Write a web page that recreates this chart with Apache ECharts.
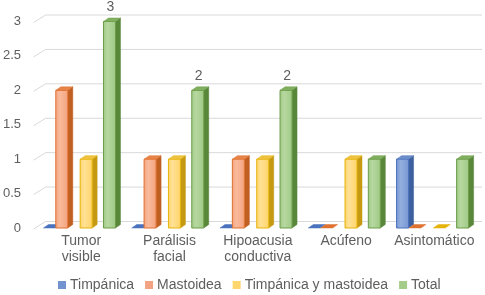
<!DOCTYPE html>
<html>
<head>
<meta charset="utf-8">
<script src="https://cdn.jsdelivr.net/npm/echarts@6/dist/echarts.min.js"></script>
<style>
  html, body { margin: 0; padding: 0; background: #fff; }
  #chart { width: 485px; height: 295px; }
</style>
</head>
<body>
<div id="chart"></div>
<script>
// data
var categories = ['Tumor\nvisible', 'Parálisis\nfacial', 'Hipoacusia\nconductiva', 'Acúfeno', 'Asintomático'];
var seriesNames = ['Timpánica', 'Mastoidea', 'Timpánica y mastoidea', 'Total'];
var timpanica = [0, 0, 0, 0, 1];
var mastoidea = [2, 1, 1, 0, 0];
var ambas = [1, 1, 1, 1, 0];
var total = [3, 2, 2, 1, 1];
var totalLabels = ['3', '2', '2', '', ''];
var yTicks = [0, 0.5, 1, 1.5, 2, 2.5, 3];

// look of each series (3d column: front, side, top)
var looks = [
  { legend: '#7393d0', front: ['#93afdf', '#7797d3'], stroke: '#4a72bd', side: '#3d5f9e', top: '#6d8ecb', offset: -0.292 },
  { legend: '#f4a382', front: ['#f9bb9c', '#f4a27f'], stroke: '#df7230', side: '#bf5f22', top: '#e8844a', offset: -0.152 },
  { legend: '#ffd66c', front: ['#ffe196', '#ffd468'], stroke: '#e6b30a', side: '#c59a12', top: '#efc342', offset: 0.124 },
  { legend: '#a4cd8a', front: ['#b7d8a0', '#9ec985'], stroke: '#6c9d47', side: '#58873a', top: '#80b060', offset: 0.388 }
];
var allValues = [timpanica, mastoidea, ambas, total];

var dx = 5, dy = 3.5, halfW = 6;
var textColor = '#5e5e5e';

function barRender(idx) {
  var look = looks[idx];
  return function (params, api) {
    var cat = api.value(0);
    var v = api.value(1);
    var base = api.coord([cat, 0]);
    var top = api.coord([cat, v]);
    var band = api.size([1, 0])[0];
    var cx = base[0] + look.offset * band;
    var x0 = cx - halfW, x1 = cx + halfW;
    var y0 = base[1], y1 = top[1];
    var kids = [];
    if (v > 0) {
      kids.push({
        type: 'polygon',
        shape: { points: [[x1, y1], [x1 + dx, y1 - dy], [x1 + dx, y0 - dy], [x1, y0]] },
        style: { fill: look.side, stroke: look.side, lineWidth: 0.5 }
      });
      kids.push({
        type: 'rect',
        shape: { x: x0, y: y1, width: x1 - x0, height: y0 - y1 },
        style: {
          fill: new echarts.graphic.LinearGradient(0, 0, 1, 0, [
            { offset: 0, color: look.front[1] },
            { offset: 0.35, color: look.front[0] },
            { offset: 1, color: look.front[1] }
          ]),
          stroke: look.stroke, lineWidth: 1
        }
      });
    }
    kids.push({
      type: 'polygon',
      shape: { points: [[x0, y1], [x0 + dx, y1 - dy], [x1 + dx, y1 - dy], [x1, y1]] },
      style: { fill: v > 0 ? look.top : look.stroke, stroke: look.stroke, lineWidth: 0.5 }
    });
    if (idx === 3 && totalLabels[cat]) {
      kids.push({
        type: 'text',
        style: {
          text: totalLabels[cat], x: cx + 1, y: y1 - 14.5,
          align: 'center', verticalAlign: 'middle',
          fill: textColor, font: '14px "Liberation Sans", Arial, sans-serif'
        }
      });
    }
    return { type: 'group', children: kids };
  };
}

// back wall gridlines with the little floor stub at the left
function gridRender(params, api) {
  var t = api.value(1);
  var y = api.coord([0, t])[1];
  var left = params.coordSys.x;
  return {
    type: 'polyline',
    shape: { points: [[left + 2.5, y + 1], [left + 14.5, y - 6.5], [482, y - 6.5]] },
    style: { stroke: '#d9d9d9', fill: null, lineWidth: 1 }
  };
}

var series = [{
  type: 'custom',
  renderItem: gridRender,
  data: yTicks.map(function (t) { return [0, t]; }),
  encode: { x: 0, y: 1 },
  silent: true,
  z: 1
}];
allValues.forEach(function (vals, i) {
  series.push({
    name: seriesNames[i],
    type: 'custom',
    renderItem: barRender(i),
    itemStyle: { color: looks[i].legend },
    data: vals.map(function (v, c) { return [c, v]; }),
    encode: { x: 0, y: 1 },
    z: 2 + i
  });
});

var chart = echarts.init(document.getElementById('chart'));
chart.setOption({
  animation: false,
  textStyle: { fontFamily: '"Liberation Sans", Arial, sans-serif' },
  grid: { left: 27.5, right: 12.5, top: 21.5, bottom: 67 },
  legend: {
    left: 53,
    top: 273,
    icon: 'rect',
    itemWidth: 8,
    itemHeight: 8,
    itemGap: 11,
    textStyle: { color: textColor, fontSize: 14, padding: [0, 0, 0, -1] },
    data: seriesNames.map(function (n, i) { return { name: n, itemStyle: { color: looks[i].legend } }; })
  },
  xAxis: {
    type: 'category',
    data: categories,
    axisLine: { show: false },
    axisTick: { show: false },
    splitLine: { show: false },
    axisLabel: {
      interval: 0,
      color: textColor,
      fontSize: 14,
      lineHeight: 16,
      margin: 5,
      padding: [0, 0, 0, 12]
    }
  },
  yAxis: {
    type: 'value',
    min: 0,
    max: 3,
    interval: 0.5,
    axisLine: { show: false },
    axisTick: { show: false },
    splitLine: { show: false },
    axisLabel: { color: textColor, fontSize: 13, margin: 10, padding: [4, 0, 0, 0] }
  },
  series: series
});
</script>
</body>
</html>
